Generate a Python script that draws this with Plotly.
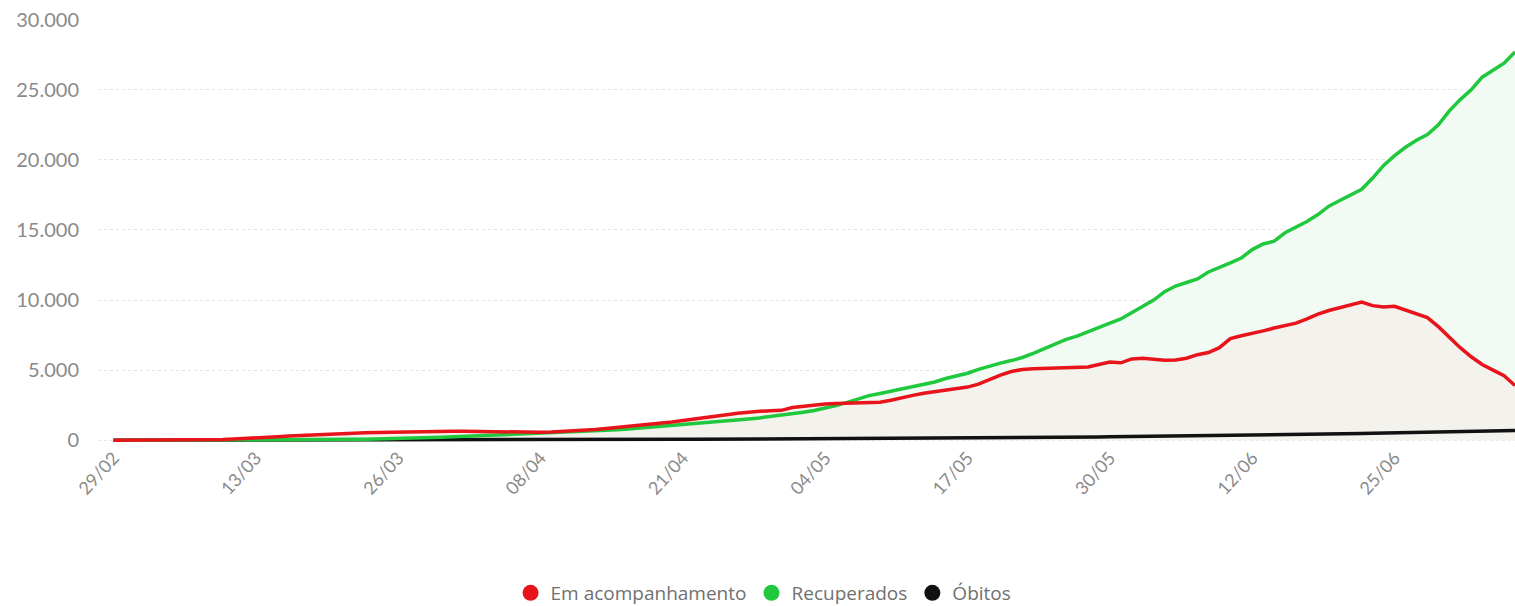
import pandas as pd
import plotly.graph_objects as go

start_date = "2020-02-29"

em_acompanhamento = [
    1, 1, 2, 3, 4, 5, 8, 12, 18, 30,
    50, 80, 110, 150, 200, 250, 300, 340, 380, 420,
    450, 480, 505, 530, 550, 570, 590, 610, 625, 635,
    640, 640, 630, 615, 600, 590, 580, 570, 565, 570,
    580, 610, 650, 700, 760, 830, 900, 980, 1060, 1150,
    1220, 1300, 1400, 1520, 1620, 1720, 1820, 1920, 2010, 2060,
    2100, 2130, 2330, 2420, 2530, 2580, 2620, 2640, 2660, 2690,
    2710, 2850, 3050, 3200, 3350, 3450, 3580, 3700, 3790, 4000,
    4350, 4650, 4900, 5050, 5100, 5120, 5140, 5150, 5200, 5230,
    5400, 5570, 5520, 5800, 5850, 5750, 5700, 5720, 5850, 6100,
    6250, 6600, 7250, 7450, 7600, 7800, 8000, 8150, 8350, 8650,
    9000, 9250, 9450, 9650, 9850, 9600, 9500, 9550, 9300, 9050,
    8750, 8100, 7360, 6600, 5950, 5400, 5000, 4600, 3900,
]

recuperados = [
    0, 0, 0, 0, 0, 0, 0, 0, 0, 0,
    0, 0, 0, 2, 5, 8, 12, 18, 24, 30,
    38, 48, 60, 72, 85, 100, 118, 138, 160, 185,
    210, 240, 270, 305, 340, 370, 400, 430, 455, 478,
    500, 530, 565, 600, 645, 690, 740, 800, 860, 920,
    990, 1050, 1110, 1170, 1230, 1300, 1370, 1440, 1510, 1590,
    1680, 1780, 1880, 1990, 2120, 2270, 2480, 2700, 2950, 3180,
    3330, 3500, 3650, 3780, 3950, 4150, 4400, 4600, 4780, 5050,
    5300, 5500, 5680, 5900, 6200, 6550, 6900, 7200, 7420, 7750,
    8050, 8350, 8650, 9100, 9550, 10000, 10600, 11000, 11250, 11500,
    12000, 12300, 12650, 13000, 13600, 14000, 14200, 14800, 15200, 15600,
    16100, 16700, 17100, 17500, 17900, 18700, 19600, 20300, 20900, 21400,
    21800, 22500, 23500, 24300, 25000, 25900, 26400, 26900, 27700,
]

obitos = [
    0, 0, 0, 0, 0, 0, 0, 0, 0, 0,
    0, 0, 0, 0, 0, 0, 0, 0, 0, 0,
    1, 1, 2, 3, 4, 5, 6, 8, 9, 11,
    12, 14, 15, 17, 18, 20, 22, 24, 26, 28,
    30, 32, 35, 37, 40, 42, 45, 47, 50, 52,
    55, 58, 61, 64, 67, 70, 73, 76, 79, 82,
    85, 88, 91, 94, 97, 100, 104, 108, 112, 116,
    120, 125, 130, 135, 140, 145, 150, 155, 160, 165,
    170, 176, 182, 188, 194, 200, 206, 212, 218, 224,
    230, 238, 246, 254, 262, 270, 278, 286, 294, 302,
    310, 320, 330, 340, 350, 360, 372, 384, 396, 408,
    420, 434, 448, 462, 476, 490, 506, 522, 538, 554,
    570, 586, 602, 618, 634, 650, 667, 684, 700,
]

tick_labels = ["29/02", "13/03", "26/03", "08/04", "21/04",
               "04/05", "17/05", "30/05", "12/06", "25/06"]
series_names = ["Em acompanhamento", "Recuperados", "Óbitos"]

dates = pd.date_range(start_date, periods=len(recuperados), freq="D")
tick_dates = [dates[i * 13] for i in range(len(tick_labels))]

RED = "#e8141b"
GREEN = "#1fc83d"
BLACK = "#111111"
FONT = "Lato"

fig = go.Figure()

# fills first (below all lines)
fig.add_trace(go.Scatter(x=dates, y=recuperados, mode="lines", line=dict(width=0),
                         fill="tozeroy", fillcolor="#f1fbf3", showlegend=False,
                         hoverinfo="skip"))
fig.add_trace(go.Scatter(x=dates, y=em_acompanhamento, mode="lines", line=dict(width=0),
                         fill="tozeroy", fillcolor="#f3f2ed", showlegend=False,
                         hoverinfo="skip"))

# lines
fig.add_trace(go.Scatter(x=dates, y=obitos, mode="lines",
                         line=dict(color=BLACK, width=3.5), showlegend=False))
fig.add_trace(go.Scatter(x=dates, y=recuperados, mode="lines",
                         line=dict(color=GREEN, width=3.5), showlegend=False))
fig.add_trace(go.Scatter(x=dates, y=em_acompanhamento, mode="lines",
                         line=dict(color=RED, width=3.5), showlegend=False))

# legend entries with circle markers
for name, col in zip(series_names, [RED, GREEN, BLACK]):
    fig.add_trace(go.Scatter(x=[None], y=[None], mode="markers", name=name,
                             marker=dict(color=col, size=16, symbol="circle")))

fig.update_layout(
    width=1515, height=606,
    margin=dict(l=98, r=0, t=19, b=163),
    paper_bgcolor="white", plot_bgcolor="white",
    separators=",.",
    font=dict(family=FONT, color="#8a8a8a"),
    showlegend=True,
    legend=dict(orientation="h", xref="container", x=0.504, xanchor="center",
                yref="container", y=0.0215, yanchor="middle",
                font=dict(family="Open Sans", size=19, color="#707070"),
                itemsizing="trace", traceorder="normal", itemwidth=30),
    xaxis=dict(
        range=[dates[0] - pd.Timedelta(hours=34), dates[-1]],
        tickmode="array", tickvals=tick_dates, ticktext=tick_labels,
        tickangle=-48, tickfont=dict(family=FONT, size=18, color="#8a8a8a"),
        showgrid=False, zeroline=False, showline=False, ticks="",
    ),
    yaxis=dict(
        range=[-200, 30050], tickvals=[0, 5000, 10000, 15000, 20000, 25000, 30000],
        tickformat=",d", tickfont=dict(family=FONT, size=20, color="#8a8a8a"),
        showgrid=True, gridcolor="#e3e3e3", griddash="dot", gridwidth=1,
        zeroline=False, showline=False, ticks="", ticklabelstandoff=18,
    ),
)

fig.write_html(
    "out.html",
    config={"displayModeBar": False},
    post_script="document.body.style.margin='0';document.body.style.overflow='hidden';",
)
